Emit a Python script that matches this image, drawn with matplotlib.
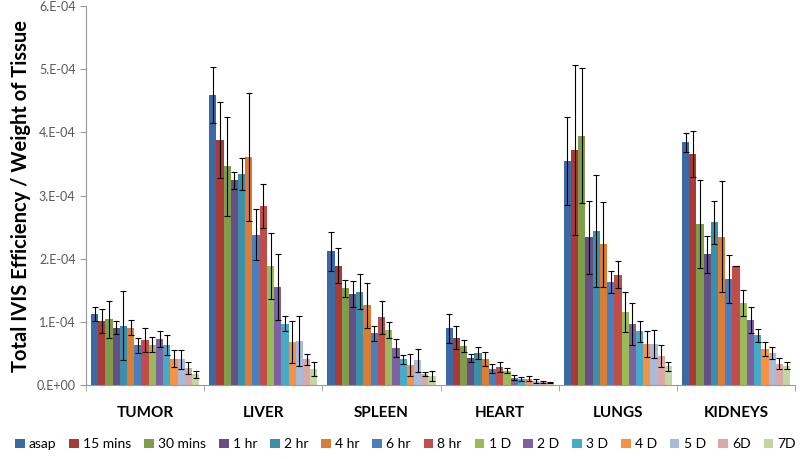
import matplotlib
matplotlib.use("Agg")
import matplotlib.pyplot as plt
from matplotlib.ticker import FuncFormatter, FixedLocator
import numpy as np

plt.rcParams['font.family'] = ['Lato', 'DejaVu Sans']

tissues = ["TUMOR", "LIVER", "SPLEEN", "HEART", "LUNGS", "KIDNEYS"]
times = ["asap", "15 mins", "30 mins", "1 hr", "2 hr", "4 hr", "6 hr", "8 hr",
         "1 D", "2 D", "3 D", "4 D", "5 D", "6D", "7D"]
colors = ["#3C69A3", "#A83B37", "#819C4A", "#654F85", "#3B90A9", "#D97D37",
          "#4A7FBE", "#C04D4A", "#9ABB57", "#7E61A1", "#47AAC6", "#F69241",
          "#A8BBDB", "#D9A9A8", "#C4D6A0"]

# values in units of 1e-4, one list per tissue (ordered as times)
tumor = [1.12, 1.01, 1.04, 0.91, 0.94, 0.91, 0.63, 0.71, 0.64, 0.73, 0.64, 0.42, 0.41, 0.27, 0.17]
liver = [4.59, 3.88, 3.46, 3.24, 3.34, 3.61, 2.38, 2.84, 1.88, 1.55, 0.97, 0.68, 0.70, 0.41, 0.26]
spleen = [2.12, 1.89, 1.53, 1.44, 1.48, 1.26, 0.82, 1.07, 0.87, 0.59, 0.41, 0.32, 0.39, 0.17, 0.15]
heart = [0.90, 0.75, 0.62, 0.43, 0.51, 0.41, 0.26, 0.28, 0.23, 0.12, 0.10, 0.10, 0.07, 0.05, 0.04]
lungs = [3.55, 3.72, 3.95, 2.34, 2.44, 2.23, 1.63, 1.75, 1.16, 0.97, 0.85, 0.65, 0.65, 0.46, 0.30]
kidneys = [3.84, 3.66, 2.55, 2.07, 2.58, 2.35, 1.68, 1.88, 1.30, 1.03, 0.79, 0.57, 0.51, 0.34, 0.31]

tumor_err = [0.11, 0.19, 0.29, 0.10, 0.55, 0.12, 0.12, 0.19, 0.12, 0.12, 0.16, 0.13, 0.15, 0.10, 0.06]
liver_err = [0.44, 0.60, 0.78, 0.14, 0.25, 1.02, 0.40, 0.35, 0.52, 0.52, 0.12, 0.33, 0.39, 0.09, 0.11]
spleen_err = [0.31, 0.28, 0.14, 0.20, 0.28, 0.36, 0.12, 0.26, 0.13, 0.14, 0.07, 0.18, 0.18, 0.03, 0.08]
heart_err = [0.23, 0.18, 0.09, 0.06, 0.10, 0.11, 0.07, 0.08, 0.04, 0.04, 0.03, 0.04, 0.03, 0.02, 0.01]
lungs_err = [0.70, 1.35, 1.07, 0.58, 0.88, 0.67, 0.18, 0.22, 0.32, 0.33, 0.17, 0.21, 0.22, 0.18, 0.07]
kidneys_err = [0.15, 0.36, 0.70, 0.29, 0.34, 0.88, 0.38, 0.0, 0.20, 0.20, 0.10, 0.11, 0.09, 0.09, 0.06]

vals = np.array([tumor, liver, spleen, heart, lungs, kidneys]) * 1e-4
errs = np.array([tumor_err, liver_err, spleen_err, heart_err, lungs_err, kidneys_err]) * 1e-4

fig = plt.figure(figsize=(8, 4.59), dpi=100)
ax = fig.add_axes([0.1075, 0.161, 0.8865, 0.826])

n = len(times)
x = np.arange(len(tissues))
group_w = 0.915
w = group_w / n
for i, t in enumerate(times):
    pos = x - group_w / 2 + w * (i + 0.5)
    ax.bar(pos, vals[:, i], width=w, color=colors[i], label=t, zorder=2)
    ax.errorbar(pos, vals[:, i], yerr=errs[:, i], fmt='none', ecolor='black',
                elinewidth=0.8, capsize=2.2, capthick=0.8, zorder=3)

ax.set_xlim(-0.5, len(tissues) - 0.5)
ax.set_ylim(0, 6e-4)
ax.set_yticks(np.arange(0, 6.01e-4, 1e-4))
ax.yaxis.set_major_formatter(FuncFormatter(lambda v, p: "%#.0E" % v))
ax.set_xticks(x)
ax.set_xticklabels(tissues, fontsize=11, fontweight='bold')
ax.xaxis.set_minor_locator(FixedLocator(np.arange(-0.5, len(tissues), 1.0)))
ax.tick_params(axis='x', which='major', length=0, pad=15)
ax.tick_params(axis='x', which='minor', length=4, color='#999999')
ax.tick_params(axis='y', length=4, color='#999999', labelsize=9, labelcolor='#595959')
for s in ['top', 'right']:
    ax.spines[s].set_visible(False)
for s in ['left', 'bottom']:
    ax.spines[s].set_color('#999999')
    ax.spines[s].set_linewidth(0.8)

ax.set_ylabel("Total IVIS Efficiency / Weight of Tissue", fontsize=14.5,
              fontweight='bold', labelpad=4)

fig.legend(loc='center', bbox_to_anchor=(0.507, 0.032), ncol=n, frameon=False,
           fontsize=10, handlelength=0.7, handleheight=0.7, handletextpad=0.3,
           columnspacing=0.92, borderaxespad=0)

fig.savefig("out.png", dpi=100)
